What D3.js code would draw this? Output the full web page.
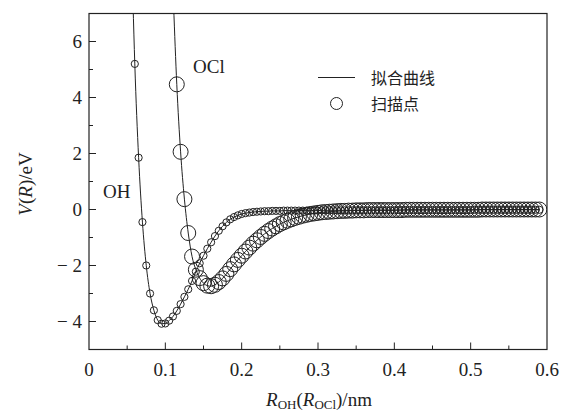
<!DOCTYPE html>
<html><head><meta charset="utf-8">
<script src="https://cdn.jsdelivr.net/npm/d3@7"></script>
<style>body{margin:0;background:#fff}svg{display:block}</style>
</head><body>
<svg id="c" width="567" height="412"></svg>
<script>
const xTicks = [0, 0.1, 0.2, 0.3, 0.4, 0.5, 0.6];
const xTickLabels = ["0", "0.1", "0.2", "0.3", "0.4", "0.5", "0.6"];
const yTicks = [-4, -2, 0, 2, 4, 6];
const yTickLabels = ["\u2212 4", "\u2212 2", "0", "2", "4", "6"];
const seriesNames = ["OH", "OCl"];
const legendLabels = ["拟合曲线", "扫描点"];

const ohX = [0.060,0.065,0.070,0.075,0.080,0.085,0.090,0.095,0.100,0.105,0.110,0.115,0.120,0.125,0.130,0.135,0.140,0.145,0.150,0.155,0.160,0.165,0.170,0.175,0.180,0.185,0.190,0.195,0.200,0.205,0.210,0.215,0.220,0.225,0.230,0.235,0.240,0.245,0.250,0.255,0.260,0.265,0.270,0.275,0.280,0.285,0.290,0.295,0.300,0.305,0.310,0.315,0.320,0.325,0.330,0.335,0.340,0.345,0.350,0.355,0.360,0.365,0.370,0.375,0.380,0.385,0.390,0.395,0.400,0.405,0.410,0.415,0.420,0.425,0.430,0.435,0.440,0.445,0.450,0.455,0.460,0.465,0.470,0.475,0.480,0.485,0.490,0.495,0.500,0.505,0.510,0.515,0.520,0.525,0.530,0.535,0.540,0.545,0.550,0.555,0.560,0.565,0.570,0.575,0.580,0.585,0.590];
const ohV = [5.2,1.85,-0.45,-2.0,-3.0,-3.6,-3.95,-4.08,-4.07,-3.97,-3.82,-3.62,-3.38,-3.12,-2.85,-2.55,-2.22,-1.92,-1.65,-1.40,-1.17,-0.95,-0.76,-0.60,-0.46,-0.35,-0.27,-0.21,-0.16,-0.13,-0.11,-0.09,-0.08,-0.07,-0.06,-0.06,-0.05,-0.05,-0.05,-0.04,
 -0.04,-0.04,-0.04,-0.04,-0.04,-0.04,-0.04,-0.04,-0.04,
 -0.03,-0.03,-0.03,-0.03,-0.03,-0.03,-0.03,-0.03,-0.03,-0.03,-0.03,-0.03,-0.03,-0.03,-0.03,-0.03,-0.03,-0.03,-0.03,-0.03,
 -0.02,-0.02,-0.02,-0.02,-0.02,-0.02,-0.02,-0.02,-0.02,-0.02,-0.02,-0.02,-0.02,-0.02,-0.02,-0.02,-0.02,-0.02,-0.02,-0.02,
 -0.01,-0.01,-0.01,-0.01,-0.01,-0.01,-0.01,-0.01,-0.01,-0.01,-0.01,-0.01,-0.01,-0.01,-0.01,-0.01,-0.01,-0.01];

const oclX = [0.115,0.120,0.125,0.130,0.135,0.140,0.145,0.150,0.155,0.160,0.165,0.170,0.175,0.180,0.185,0.190,0.195,0.200,0.205,0.210,0.215,0.220,0.225,0.230,0.235,0.240,0.245,0.250,0.255,0.260,0.265,0.270,0.275,0.280,0.285,0.290,0.295,0.300,0.305,0.310,0.315,0.320,0.325,0.330,0.335,0.340,0.345,0.350,0.355,0.360,0.365,0.370,0.375,0.380,0.385,0.390,0.395,0.400,0.405,0.410,0.415,0.420,0.425,0.430,0.435,0.440,0.445,0.450,0.455,0.460,0.465,0.470,0.475,0.480,0.485,0.490,0.495,0.500,0.505,0.510,0.515,0.520,0.525,0.530,0.535,0.540,0.545,0.550,0.555,0.560,0.565,0.570,0.575,0.580,0.585,0.590];
const oclV = [4.47,2.06,0.37,-0.84,-1.68,-2.15,-2.45,-2.63,-2.72,-2.74,-2.69,-2.59,-2.46,-2.30,-2.13,-1.96,-1.80,-1.65,-1.50,-1.36,-1.22,-1.10,-0.98,-0.87,-0.77,-0.68,-0.60,-0.52,-0.46,-0.40,-0.35,-0.30,-0.26,-0.22,-0.19,-0.16,-0.14,-0.12,-0.10,-0.09,-0.08,-0.07,-0.06,-0.05,-0.05,-0.04,-0.04,-0.03,-0.03,-0.03,
 -0.02,-0.02,-0.02,-0.02,-0.02,-0.02,-0.02,-0.02,-0.02,-0.02,
 -0.01,-0.01,-0.01,-0.01,-0.01,-0.01,-0.01,-0.01,-0.01,-0.01,-0.01,-0.01,-0.01,-0.01,-0.01,-0.01,-0.01,-0.01,-0.01,-0.01,
 0,0,0,0,0,0,0,0,0,0,0,0,0,0,0,0];

// fitted curves continue above the plot top
const ohFitTop = [0.0576, 7.4];
const oclFitTop = [0.1108, 7.3];

const svg = d3.select("#c");
const L = 89, R = 547, T = 13.5, B = 349.5;
const x = d3.scaleLinear().domain([0, 0.6]).range([L, R]);
const y = d3.scaleLinear().domain([-5, 7]).range([B, T]);
const serif = "'Liberation Serif', 'Times New Roman', serif";
const ink = "#222";

svg.append("defs").append("clipPath").attr("id", "clip")
  .append("rect").attr("x", L).attr("y", T).attr("width", R - L).attr("height", B - T);

// frame
svg.append("rect").attr("x", L).attr("y", T).attr("width", R - L).attr("height", B - T)
  .attr("fill", "none").attr("stroke", ink).attr("stroke-width", 1.2);

// x axis ticks (inward)
const xMinor = d3.range(0.05, 0.6, 0.1);
svg.append("g").selectAll("line.maj").data(xTicks.slice(1, -1)).join("line")
  .attr("x1", d => x(d)).attr("x2", d => x(d)).attr("y1", B).attr("y2", B - 7)
  .attr("stroke", ink).attr("stroke-width", 1);
svg.append("g").selectAll("line.min").data(xMinor).join("line")
  .attr("x1", d => x(d)).attr("x2", d => x(d)).attr("y1", B).attr("y2", B - 4)
  .attr("stroke", ink).attr("stroke-width", 1);
svg.append("g").selectAll("text").data(xTicks).join("text")
  .attr("x", d => x(d)).attr("y", 376).attr("text-anchor", "middle")
  .attr("font-family", serif).attr("font-size", 19).attr("fill", ink)
  .text((d, i) => xTickLabels[i]);

// y axis ticks
const yMinor = d3.range(-5, 8, 1).filter(v => v % 2 !== 0);
svg.append("g").selectAll("line").data(yTicks).join("line")
  .attr("x1", L).attr("x2", L + 7).attr("y1", d => y(d)).attr("y2", d => y(d))
  .attr("stroke", ink).attr("stroke-width", 1);
svg.append("g").selectAll("line").data(yMinor).join("line")
  .attr("x1", L).attr("x2", L + 4).attr("y1", d => y(d)).attr("y2", d => y(d))
  .attr("stroke", ink).attr("stroke-width", 1);
svg.append("g").selectAll("text").data(yTicks).join("text")
  .attr("x", 82).attr("y", d => y(d) + 6.5).attr("text-anchor", "end")
  .attr("font-family", serif).attr("font-size", 19).attr("fill", ink)
  .text((d, i) => yTickLabels[i]);

// axis titles
const xt = svg.append("text").attr("x", 319).attr("y", 406).attr("text-anchor", "middle")
  .attr("font-family", serif).attr("font-size", 19).attr("fill", ink);
xt.append("tspan").attr("font-style", "italic").text("R");
xt.append("tspan").attr("font-size", 13).attr("dy", 3).text("OH");
xt.append("tspan").attr("dy", -3).text("(");
xt.append("tspan").attr("font-style", "italic").text("R");
xt.append("tspan").attr("font-size", 13).attr("dy", 3).text("OCl");
xt.append("tspan").attr("dy", -3).text(")/nm");

const yt = svg.append("text").attr("transform", "translate(32,184) rotate(-90)")
  .attr("text-anchor", "middle").attr("font-family", serif).attr("font-size", 19).attr("fill", ink);
yt.append("tspan").attr("font-style", "italic").text("V");
yt.append("tspan").text("(");
yt.append("tspan").attr("font-style", "italic").text("R");
yt.append("tspan").text(")/eV");

// curves
const line = d3.line().x(d => x(d[0])).y(d => y(d[1])).curve(d3.curveMonotoneX);
const ohPts = ohX.map((v, i) => [v, ohV[i]]);
const oclPts = oclX.map((v, i) => [v, oclV[i]]);
const plot = svg.append("g").attr("clip-path", "url(#clip)");
plot.append("path").datum([ohFitTop].concat(ohPts)).attr("d", line)
  .attr("fill", "none").attr("stroke", ink).attr("stroke-width", 1);
plot.append("path").datum([oclFitTop].concat(oclPts)).attr("d", line)
  .attr("fill", "none").attr("stroke", ink).attr("stroke-width", 1);

// scan points
plot.append("g").selectAll("circle").data(oclPts).join("circle")
  .attr("cx", d => x(d[0])).attr("cy", d => y(d[1])).attr("r", 7.5)
  .attr("fill", "none").attr("stroke", ink).attr("stroke-width", 1);
plot.append("g").selectAll("circle").data(ohPts).join("circle")
  .attr("cx", d => x(d[0])).attr("cy", d => y(d[1])).attr("r", 3.6)
  .attr("fill", "none").attr("stroke", ink).attr("stroke-width", 1);

// series labels
svg.append("text").attr("x", 193).attr("y", 73).attr("font-family", serif).attr("font-size", 19)
  .attr("fill", ink).text(seriesNames[1]);
svg.append("text").attr("x", 103).attr("y", 198).attr("font-family", serif).attr("font-size", 19)
  .attr("fill", ink).text(seriesNames[0]);

// legend
const cjk = "'Noto Sans CJK SC', sans-serif";
svg.append("line").attr("x1", 318).attr("x2", 355).attr("y1", 77.5).attr("y2", 77.5)
  .attr("stroke", ink).attr("stroke-width", 1);
svg.append("circle").attr("cx", 336.5).attr("cy", 103.5).attr("r", 6)
  .attr("fill", "none").attr("stroke", ink).attr("stroke-width", 1);
svg.append("text").attr("x", 371).attr("y", 83.5).attr("font-family", cjk).attr("font-size", 16)
  .attr("fill", ink).text(legendLabels[0]);
svg.append("text").attr("x", 371).attr("y", 109.5).attr("font-family", cjk).attr("font-size", 16)
  .attr("fill", ink).text(legendLabels[1]);
</script>
</body></html>
